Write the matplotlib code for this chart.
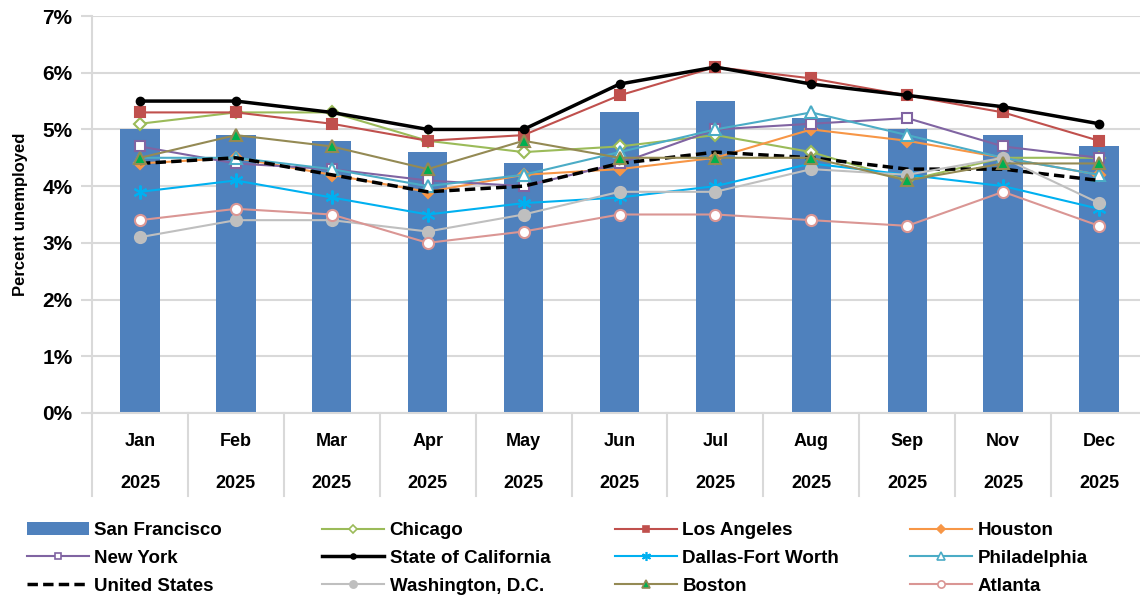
import matplotlib.pyplot as plt
from matplotlib.patches import Patch
from matplotlib.lines import Line2D
from matplotlib.ticker import PercentFormatter
import matplotlib.transforms as mtransforms

plt.rcParams['font.family'] = ['Liberation Sans', 'DejaVu Sans']
plt.rcParams['font.weight'] = 'bold'

months = ["Jan", "Feb", "Mar", "Apr", "May", "Jun", "Jul", "Aug", "Sep", "Nov", "Dec"]
years = ["2025"] * 11

san_francisco = [5.0, 4.9, 4.8, 4.6, 4.4, 5.3, 5.5, 5.2, 5.0, 4.9, 4.7]
chicago = [5.1, 5.3, 5.3, 4.8, 4.6, 4.7, 4.9, 4.6, 4.1, 4.5, 4.5]
los_angeles = [5.3, 5.3, 5.1, 4.8, 4.9, 5.6, 6.1, 5.9, 5.6, 5.3, 4.8]
houston = [4.4, 4.5, 4.2, 3.9, 4.2, 4.3, 4.5, 5.0, 4.8, 4.5, 4.2]
new_york = [4.7, 4.4, 4.3, 4.1, 4.0, 4.4, 5.0, 5.1, 5.2, 4.7, 4.5]
california = [5.5, 5.5, 5.3, 5.0, 5.0, 5.8, 6.1, 5.8, 5.6, 5.4, 5.1]
dallas = [3.9, 4.1, 3.8, 3.5, 3.7, 3.8, 4.0, 4.4, 4.2, 4.0, 3.6]
philadelphia = [4.5, 4.5, 4.3, 4.0, 4.2, 4.6, 5.0, 5.3, 4.9, 4.5, 4.2]
united_states = [4.4, 4.5, 4.2, 3.9, 4.0, 4.4, 4.6, 4.5, 4.3, 4.3, 4.1]
washington = [3.1, 3.4, 3.4, 3.2, 3.5, 3.9, 3.9, 4.3, 4.2, 4.5, 3.7]
boston = [4.5, 4.9, 4.7, 4.3, 4.8, 4.5, 4.5, 4.5, 4.1, 4.4, 4.4]
atlanta = [3.4, 3.6, 3.5, 3.0, 3.2, 3.5, 3.5, 3.4, 3.3, 3.9, 3.3]

x = list(range(len(months)))

fig = plt.figure(figsize=(11.4, 5.99), dpi=100)
# axes extends a bit past the right edge like the original
ax = fig.add_axes([92 / 1140, 1 - 413 / 599, 1055 / 1140, 397 / 599])

ax.bar(x, san_francisco, width=0.41, color="#4F81BD", zorder=2)

# (label, data, color, marker, markerface, lw, ls, ms)
series = [
    ("Chicago", chicago, "#9BBB59", "D", "white", 1.5, "-", 6.5),
    ("Los Angeles", los_angeles, "#C0504D", "s", "#C0504D", 1.5, "-", 7),
    ("Houston", houston, "#F79646", "D", "#F79646", 1.5, "-", 6.5),
    ("New York", new_york, "#8064A2", "s", "white", 1.5, "-", 7.5),
    ("State of California", california, "black", "o", "black", 2.5, "-", 5.5),
    ("Dallas-Fort Worth", dallas, "#00B0F0", (6, 2, 0), "#00B0F0", 1.5, "-", 10),
    ("Philadelphia", philadelphia, "#4BACC6", "^", "white", 1.5, "-", 8),
    ("United States", united_states, "black", "None", "black", 2.5, (0, (3, 1.5)), 0),
    ("Washington, D.C.", washington, "#BFBFBF", "o", "#BFBFBF", 1.5, "-", 8),
    ("Boston", boston, "#948A54", "^", "#00B050", 1.5, "-", 8),
    ("Atlanta", atlanta, "#DA9694", "o", "white", 1.5, "-", 8),
]

handles = {"San Francisco": Patch(facecolor="#4F81BD")}
for label, data, color, marker, face, lw, ls, ms in series:
    ax.plot(x, data, color=color, marker=marker, markerfacecolor=face,
            markeredgecolor=color, markeredgewidth=1.5, lw=lw, ls=ls, ms=ms, zorder=3)
    handles[label] = Line2D([], [], color=color, marker=marker, markerfacecolor=face,
                            markeredgecolor=color, markeredgewidth=1.2, lw=lw, ls=ls,
                            ms=ms * 0.65)

ax.set_xlim(-0.5, len(months) - 0.5)
ax.set_ylim(0, 7)
ax.yaxis.set_major_formatter(PercentFormatter(decimals=0))
ax.grid(axis="y", color="#D9D9D9", lw=1.5, zorder=0)
ax.set_axisbelow(True)
for s in ["top", "right"]:
    ax.spines[s].set_visible(False)
ax.spines["left"].set_color("#D9D9D9")
ax.spines["bottom"].set_color("#D9D9D9")
ax.spines["left"].set_linewidth(1.5)
ax.spines["bottom"].set_linewidth(1.5)
ax.tick_params(axis="y", length=8, width=1.5, color="#D9D9D9", labelsize=15, pad=6)
ax.tick_params(axis="x", length=0, labelbottom=False)
for t in ax.get_yticklabels():
    t.set_fontweight("bold")
ax.set_ylabel("Percent unemployed", fontsize=12, fontweight="bold", labelpad=10)

# two-level category axis
trans = mtransforms.blended_transform_factory(ax.transData, ax.transAxes)
h = 397.0
for i in range(len(months) + 1):
    ax.plot([i - 0.5, i - 0.5], [0, -83 / h], transform=trans, color="#D9D9D9",
            lw=1.5, clip_on=False)
for i, (m, yr) in enumerate(zip(months, years)):
    ax.text(i, -29 / h, m, transform=trans, ha="center", va="center", fontsize=13,
            fontweight="bold")
    ax.text(i, -70 / h, yr, transform=trans, ha="center", va="center", fontsize=13,
            fontweight="bold")

# legend: one block per column so each column sits where the original has it
columns = [["San Francisco", "New York", "United States"],
           ["Chicago", "State of California", "Washington, D.C."],
           ["Los Angeles", "Dallas-Fort Worth", "Boston"],
           ["Houston", "Philadelphia", "Atlanta"]]
col_x = [27, 322, 615, 910]
for names, cx in zip(columns, col_x):
    leg = fig.legend([handles[k] for k in names], names, loc="upper left",
                     bbox_to_anchor=(cx / 1140, 1 - 522 / 599), frameon=False,
                     prop={"size": 13.5, "weight": "bold"}, handlelength=3.3,
                     handletextpad=0.3, labelspacing=0.57, borderaxespad=0, borderpad=0)

fig.savefig("out.png", dpi=100)
